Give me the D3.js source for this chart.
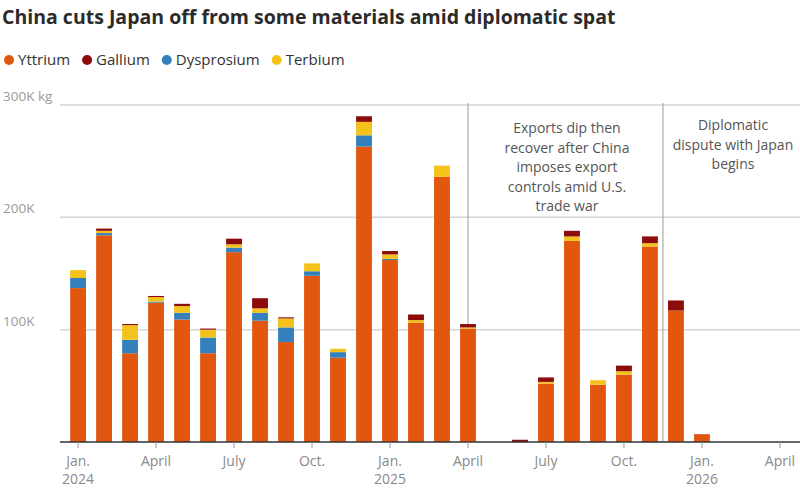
<!DOCTYPE html>
<html><head><meta charset="utf-8">
<script src="https://cdn.jsdelivr.net/npm/d3@7"></script>
<style>body{margin:0;background:#fff;font-family:"Open Sans",sans-serif;}</style>
</head><body><svg id="c" width="800" height="497"></svg>
<script>
var months = ["2024-01","2024-02","2024-03","2024-04","2024-05","2024-06","2024-07","2024-08","2024-09","2024-10","2024-11","2024-12",
  "2025-01","2025-02","2025-03","2025-04","2025-05","2025-06","2025-07","2025-08","2025-09","2025-10","2025-11","2025-12",
  "2026-01","2026-02","2026-03","2026-04"];
// thousand kg
var yttrium    = [137,184,79,124,109,79,169,108,89,148,75,263,162,106,236,101,0,0,52,179,51,60,174,117,7,0,0,0];
var dysprosium = [9,2,12,1,6,14,4,7,13,4,5,10,1,0,0,0,0,0,0,0,0,0,0,0,0,0,0,0];
var terbium    = [7,2,13,4,6,7,3,4,8,7,3,12,4,2.5,10,1,0,0,1.5,4,4,3,3,0,0,0,0,0];
var gallium    = [0,2,1,1,2,1,5,9,1,0,0,5,3,5,0,3,0,2,4,5,0,5,6,9,0,0,0,0];
var seriesNames = ["Yttrium","Gallium","Dysprosium","Terbium"];
var stackOrder = ["Yttrium","Dysprosium","Terbium","Gallium"];
var colors = {Yttrium:"#e2570f",Gallium:"#8c0b0b",Dysprosium:"#3380bd",Terbium:"#f3c31b"};
var tickMonths = {"2024-01":["Jan.","2024"],"2024-04":["April"],"2024-07":["July"],"2024-10":["Oct."],
  "2025-01":["Jan.","2025"],"2025-04":["April"],"2025-07":["July"],"2025-10":["Oct."],"2026-01":["Jan.","2026"],"2026-04":["April"]};
var yTicks = [100,200,300];

var rows = months.map(function (m, i) {
  return {month:m, Yttrium:yttrium[i], Dysprosium:dysprosium[i], Terbium:terbium[i], Gallium:gallium[i]};
});

var svg = d3.select("#c");
var x = d3.scaleBand().domain(months).range([60, 798]).padding(0.39);
var y = d3.scaleLinear().domain([0, 300]).range([442, 105]);

svg.append("text").attr("x", 2).attr("y", 24).attr("font-size", 19.5).attr("font-weight", 700)
  .attr("fill", "#2b2b2b").text("China cuts Japan off from some materials amid diplomatic spat");

var lx = 4;
seriesNames.forEach(function (s) {
  svg.append("circle").attr("cx", lx + 5).attr("cy", 60).attr("r", 5).attr("fill", colors[s]);
  var t = svg.append("text").attr("x", lx + 14).attr("y", 65).attr("font-size", 15).attr("fill", "#333").text(s);
  lx += t.node().getComputedTextLength() + 26;
});

// grid
yTicks.forEach(function (v) {
  svg.append("line").attr("x1", 60).attr("x2", 800).attr("y1", y(v)).attr("y2", y(v))
    .attr("stroke", "#d6d6d6").attr("stroke-width", 1.5);
  svg.append("text").attr("x", 3).attr("y", y(v) - 4).attr("font-size", 13.5).attr("fill", "#9a9a9a")
    .text(v + "K" + (v === 300 ? " kg" : ""));
});

// annotation lines
var ax1 = x("2025-04") + x.bandwidth() / 2;
var ax2 = x("2025-12") - x.step() * x.paddingInner() / 2;
[ax1, ax2].forEach(function (ax) {
  svg.append("line").attr("x1", ax).attr("x2", ax).attr("y1", 103).attr("y2", 442)
    .attr("stroke", "#9a9a9a").attr("stroke-width", 1);
});

var stack = d3.stack().keys(stackOrder);
svg.append("g").selectAll("g").data(stack(rows)).join("g")
  .attr("fill", function (d) { return colors[d.key]; })
  .selectAll("rect").data(function (d) { return d; }).join("rect")
  .attr("x", function (d) { return x(d.data.month); })
  .attr("width", x.bandwidth())
  .attr("y", function (d) { return y(d[1]); })
  .attr("height", function (d) { return y(d[0]) - y(d[1]); });

svg.append("line").attr("x1", 60).attr("x2", 800).attr("y1", 442).attr("y2", 442)
  .attr("stroke", "#333").attr("stroke-width", 1.5);

Object.keys(tickMonths).forEach(function (m) {
  var cx = x(m) + x.bandwidth() / 2;
  svg.append("line").attr("x1", cx).attr("x2", cx).attr("y1", 442).attr("y2", 448).attr("stroke", "#999");
  tickMonths[m].forEach(function (l, i) {
    svg.append("text").attr("x", cx).attr("y", 466 + i * 18).attr("text-anchor", "middle")
      .attr("font-size", 14).attr("fill", "#8a8a8a").text(l);
  });
});

function note(cx, y0, lines) {
  lines.forEach(function (l, i) {
    svg.append("text").attr("x", cx).attr("y", y0 + i * 19.5).attr("text-anchor", "middle")
      .attr("font-size", 14).attr("fill", "#555").text(l);
  });
}
note(567, 133, ["Exports dip then","recover after China","imposes export","controls amid U.S.","trade war"]);
note(733, 130, ["Diplomatic","dispute with Japan","begins"]);
</script></body></html>
